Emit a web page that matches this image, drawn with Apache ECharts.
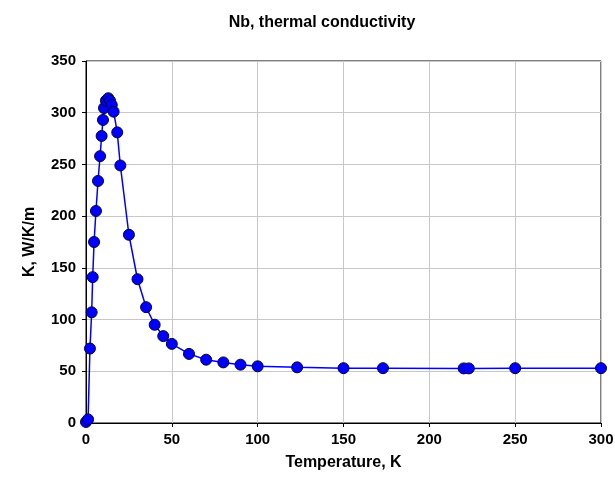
<!DOCTYPE html>
<html>
<head>
<meta charset="utf-8">
<script src="https://cdn.jsdelivr.net/npm/echarts@6/dist/echarts.min.js"></script>
<style>html,body{margin:0;padding:0;background:#fff;}#c{width:615px;height:488px;}</style>
</head>
<body>
<div id="c"></div>
<script>
const temperature = [0, 1.2, 2.3, 3.3, 3.9, 4.7, 5.8, 7.0, 8.2, 9.1, 9.9, 10.5, 11.6, 13, 14, 15, 16.1, 18.2, 20, 25, 30, 35, 40, 45, 50, 60, 70, 80, 90, 100, 123, 150, 173, 220, 223, 250, 300];
const conductivity = [1, 3.5, 72, 107, 141, 175, 205, 234, 258, 277.5, 293, 304.5, 311.6, 314, 311.6, 307.5, 301, 281, 249, 182, 139, 112, 95, 84, 76.5, 66.8, 61.2, 58.6, 56.4, 54.8, 53.8, 53, 53, 52.8, 52.8, 53, 53];
const xTicks = [0, 50, 100, 150, 200, 250, 300];
const yTicks = [0, 50, 100, 150, 200, 250, 300, 350];

const data = temperature.map((t, i) => [t, conductivity[i]]);
const font = 'Liberation Sans, Arial, sans-serif';
const chart = echarts.init(document.getElementById('c'));
chart.setOption({
  animation: false,
  title: {
    text: 'Nb, thermal conductivity',
    left: 317, top: 10, textAlign: 'center',
    textStyle: {fontFamily: font, fontWeight: 'bold', fontSize: 16, color: '#000'}
  },
  grid: {left: 86, right: 14, top: 61, bottom: 65, show: true, borderColor: '#000', borderWidth: 1,
    backgroundColor: 'transparent', containLabel: false, outerBoundsMode: 'none'},
  xAxis: {
    type: 'value', min: 0, max: 300, interval: 50,
    name: 'Temperature, K', nameLocation: 'middle', nameGap: 32,
    nameTextStyle: {fontFamily: font, fontWeight: 'bold', fontSize: 16, color: '#000'},
    axisLine: {show: true, lineStyle: {color: '#000', width: 1}},
    axisTick: {show: true, length: 4, lineStyle: {color: '#000'}},
    axisLabel: {fontFamily: font, fontWeight: 'bold', fontSize: 15, color: '#000', margin: 9,
      formatter: v => xTicks.includes(v) ? String(v) : ''},
    splitLine: {show: true, lineStyle: {color: '#c8c8c8', width: 1}}
  },
  yAxis: {
    type: 'value', min: 0, max: 350, interval: 50,
    name: 'K, W/K/m', nameLocation: 'middle', nameGap: 48, nameRotate: 90,
    nameTextStyle: {fontFamily: font, fontWeight: 'bold', fontSize: 16, color: '#000'},
    axisLine: {show: true, lineStyle: {color: '#000', width: 1}},
    axisTick: {show: true, length: 4, lineStyle: {color: '#000'}},
    axisLabel: {fontFamily: font, fontWeight: 'bold', fontSize: 15, color: '#000', margin: 10,
      formatter: v => yTicks.includes(v) ? String(v) : ''},
    splitLine: {show: true, lineStyle: {color: '#c8c8c8', width: 1}}
  },
  series: [{
    type: 'line',
    data: data,
    symbol: 'circle',
    symbolSize: 11,
    clip: false,
    lineStyle: {color: '#0000ff', width: 1.5},
    itemStyle: {color: '#0000ff', borderColor: '#000040', borderWidth: 1}
  }]
});
</script>
</body>
</html>
